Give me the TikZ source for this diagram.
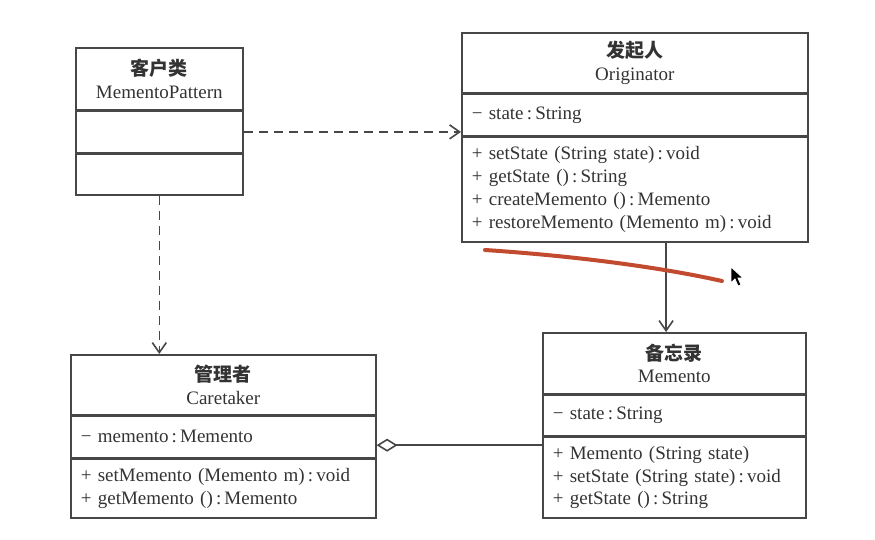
\documentclass[tikz,border=0pt]{standalone}
\usepackage{fontspec}
\setmainfont{Liberation Serif}
\newfontfamily\cjk{Noto Sans CJK SC}
\usetikzlibrary{arrows.meta, positioning, calc}

\definecolor{umlline}{HTML}{474747}
\definecolor{umltext}{HTML}{333333}
\definecolor{penred}{HTML}{C24A2E}

\tikzset{
  part/.style={draw=umlline, line width=0.8pt, anchor=north west, inner xsep=5pt, inner ysep=0pt,
    font=\fontsize{9.5}{11.4}\selectfont, text=umltext},
  hdr/.style={part, align=center},
  cmp/.style={part, align=left},
  dep/.style={draw=umlline, line width=0.8pt, dash pattern=on 4.5pt off 3pt, -{Straight Barb[length=5pt, width=7pt]}},
  assoc/.style={draw=umlline, line width=0.8pt, -{Straight Barb[length=5pt, width=7pt]}},
  aggr/.style={draw=umlline, line width=0.8pt, -{Diamond[open, length=10.5pt, width=6.5pt]}},
  pen/.style={draw=penred, line width=2pt, line cap=round}
}

\begin{document}
\begin{tikzpicture}[x=0.5pt, y=-0.5pt]
  \useasboundingbox (0,0) rectangle (875,540);

  % client
  \node[hdr, minimum width=83.5pt, minimum height=31pt] (cli) at (75,47) {{\cjk\bfseries 客户类}\\MementoPattern};
  \node[cmp, minimum width=83.5pt, text width=73.5pt, minimum height=20.5pt, below=0pt of cli] (climid) {};
  \node[cmp, minimum width=83.5pt, text width=73.5pt, minimum height=20.5pt, below=0pt of climid] (clibot) {};

  % originator
  \node[hdr, minimum width=173pt, minimum height=30pt] (org) at (461,32) {{\cjk\bfseries 发起人}\\Originator};
  \node[cmp, text width=163pt, minimum height=20.5pt, below=0pt of org] (orgattr) {− state\,:\,String};
  \node[cmp, text width=163pt, minimum height=52.5pt, below=0pt of orgattr] (orgops) {%
    + setState (String state)\,:\,void\\
    + getState ()\,:\,String\\
    + createMemento ()\,:\,Memento\\
    + restoreMemento (Memento m)\,:\,void};

  % caretaker
  \node[hdr, minimum width=152.5pt, minimum height=30pt] (care) at (70,354) {{\cjk\bfseries 管理者}\\Caretaker};
  \node[cmp, text width=142.5pt, minimum height=20.5pt, below=0pt of care] (careattr) {− memento\,:\,Memento};
  \node[cmp, text width=142.5pt, minimum height=29.5pt, below=0pt of careattr] (careops) {%
    + setMemento (Memento m)\,:\,void\\
    + getMemento ()\,:\,Memento};

  % memento
  \node[hdr, minimum width=131.5pt, minimum height=30.5pt] (mem) at (542,332) {{\cjk\bfseries 备忘录}\\Memento};
  \node[cmp, text width=121.5pt, minimum height=20pt, below=0pt of mem] (memattr) {− state\,:\,String};
  \node[cmp, text width=121.5pt, minimum height=40.5pt, below=0pt of memattr] (memops) {%
    + Memento (String state)\\
    + setState (String state)\,:\,void\\
    + getState ()\,:\,String};

  % relations
  \draw[dep] (climid.east) -- (climid.east -| org.west);
  \draw[dep] (clibot.south) -- (clibot.south |- care.north);
  \coordinate (orgfoot) at ($(orgops.south west)!0.59!(orgops.south east)$);
  \draw[assoc] (orgfoot) -- (orgfoot |- mem.north);
  \coordinate (hold) at ([yshift=6.5pt]careattr.south east);
  \draw[aggr] (memops.west |- hold) -- (hold);

  % pen stroke and pointer
  \draw[pen] (485,250) .. controls (560,255) and (650,265) .. (722,281);
  \filldraw[fill=black, draw=white, line width=0.4pt] (731,267) -- (731,283) -- (735,279) -- (738,286)
    -- (741,285) -- (738,278) -- (743,278) -- cycle;
\end{tikzpicture}
\end{document}
